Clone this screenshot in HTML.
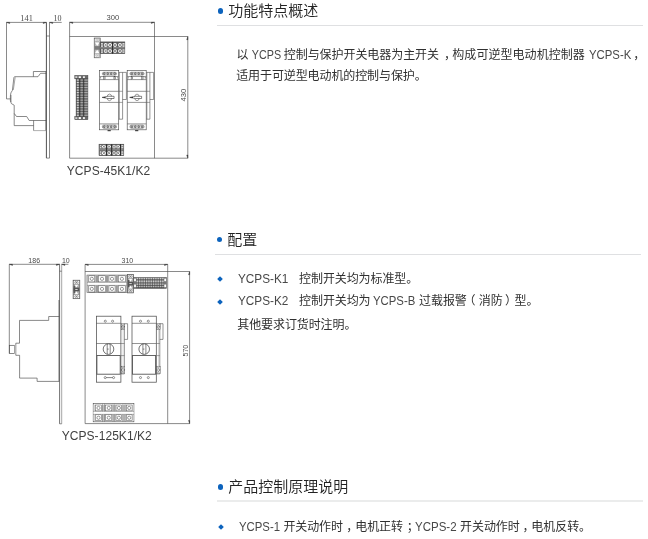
<!DOCTYPE html>
<html lang="zh-CN">
<head>
<meta charset="utf-8">
<title>YCPS-K</title>
<style>
html,body{margin:0;padding:0;background:#fff;}
body{width:648px;height:539px;position:relative;overflow:hidden;font-family:"Liberation Sans","Noto Sans CJK SC",sans-serif;color:#222;}
.abs{position:absolute;white-space:nowrap;}
.h{position:absolute;left:229px;font-size:15px;line-height:20px;height:20px;color:#222;font-weight:350;white-space:nowrap;}
.dot{position:absolute;left:217.7px;width:5.5px;height:5.5px;border-radius:50%;background:#0c63bd;}
.rule{position:absolute;left:216.8px;width:426.2px;height:1px;background:#dfe0e2;}
.p{position:absolute;left:237px;font-size:12px;line-height:20px;height:20px;color:#303030;font-weight:400;white-space:nowrap;}
.dia{position:absolute;left:218px;width:4px;height:4px;background:#0c63bd;transform:rotate(45deg);}
.cap{position:absolute;letter-spacing:0.06px;font-size:12px;line-height:16px;color:#404040;white-space:nowrap;font-weight:300;}
svg{position:absolute;left:0;top:0;}
.l{display:inline-block;white-space:pre;color:#484848;font-size:12px;letter-spacing:0;}
.l>span{display:inline-block;white-space:pre;transform-origin:0 50%;}
.pu{display:inline-block;box-sizing:border-box;white-space:pre;letter-spacing:0;}
.gap{display:inline-block;white-space:pre;overflow:hidden;vertical-align:bottom;height:14px;}
#wrap{position:absolute;left:0;top:0;width:648px;height:539px;will-change:transform;}
</style>
</head>
<body>
<div id="wrap">
<!-- Section 1 -->
<div class="dot" style="top:8px"></div>
<div class="h" style="top:0.5px;left:228.3px">功能特点概述</div>
<div class="rule" style="top:25px"></div>
<div class="p" style="top:45px;left:236.6px"><span style="letter-spacing:-0.070px">以</span><span class="l" style="width:35.30px"><span style="transform:scaleX(0.8972);margin-left:0px"> YCPS </span></span><span style="letter-spacing:-0.070px">控制与保护开关电器为主开关</span><span class="pu" style="width:13.40px;padding-left:5.10px">，</span><span style="letter-spacing:0.045px">构成可逆型电动机控制器</span><span class="l" style="width:46.30px"><span style="transform:scaleX(0.9466);margin-left:0.85px"> YCPS-K</span></span><span class="pu" style="width:12.00px;padding-left:2.20px">，</span></div>
<div class="p" style="top:66px;left:236.2px"><span style="letter-spacing:-0.100px">适用于可逆型电动机的控制与保护。</span></div>

<!-- Section 2 -->
<div class="dot" style="top:236.9px;left:216.5px"></div>
<div class="h" style="top:229.5px;left:227.2px">配置</div>
<div class="rule" style="top:254px;left:215.3px"></div>
<div class="dia" style="top:277.3px;left:217.8px"></div>
<div class="p" style="top:269px;left:237.9px"><span class="l" style="width:50.40px"><span style="transform:scaleX(0.9815);margin-left:0px">YCPS-K1</span></span><span class="gap" style="width:10.80px">　</span><span style="letter-spacing:-0.100px">控制开关均为标准型。</span></div>
<div class="dia" style="top:299.6px;left:217.8px"></div>
<div class="p" style="top:291px;left:237.9px"><span class="l" style="width:50.40px"><span style="transform:scaleX(0.9815);margin-left:0px">YCPS-K2</span></span><span class="gap" style="width:10.80px">　</span><span style="letter-spacing:-0.100px">控制开关均为</span><span class="l" style="width:48.60px"><span style="transform:scaleX(0.9465);margin-left:0px"> YCPS-B </span></span><span style="letter-spacing:-0.070px">过载报警</span><span class="pu" style="width:11.90px;position:relative;left:-3.4px">（</span><span style="letter-spacing:-0.070px">消防</span><span class="pu" style="width:11.90px;padding-left:2.50px">）</span><span style="letter-spacing:-0.070px">型。</span></div>
<div class="p" style="top:315px;left:237.3px"><span style="letter-spacing:-0.100px">其他要求订货时注明。</span></div>

<!-- Section 3 -->
<div class="dot" style="top:484px"></div>
<div class="h" style="top:476.5px;left:228.3px">产品控制原理说明</div>
<div class="rule" style="top:500px;height:2px;background:#ebecec"></div>
<div class="dia" style="top:524.7px;left:219px"></div>
<div class="p" style="top:517px;left:239.2px"><span class="l" style="width:44.20px"><span style="transform:scaleX(0.9468);margin-left:0px">YCPS-1 </span></span><span style="letter-spacing:-0.100px">开关动作时</span><span class="pu" style="width:12.30px;padding-left:3.30px">，</span><span style="letter-spacing:-0.050px">电机正转</span><span class="pu" style="width:12.20px;padding-left:3.80px">；</span><span class="l" style="width:44.80px"><span style="transform:scaleX(0.9597);margin-left:0px">YCPS-2 </span></span><span style="letter-spacing:-0.050px">开关动作时</span><span class="pu" style="width:11.55px;padding-left:2.65px">，</span><span style="letter-spacing:-0.050px">电机反转。</span></div>

<div class="cap" style="left:66.8px;top:163px">YCPS-45K1/K2</div>
<div class="cap" style="left:61.7px;top:428px">YCPS-125K1/K2</div>

<svg width="648" height="539" viewBox="0 0 648 539" id="dwg">
<g id="d1">
<path d="M6.5,22.4 H46.4 M49.5,22.4 H61.7" fill="none" stroke="#4d4d4d" stroke-width="0.66" />
<path d="M6.5,22.4 V98.9 H10.6" fill="none" stroke="#4d4d4d" stroke-width="0.66" />
<path d="M46.4,22.4 V158.1" fill="none" stroke="#3d3d3d" stroke-width="0.9" />
<path d="M49.5,22.4 V158.1" fill="none" stroke="#4d4d4d" stroke-width="0.66" />
<path d="M46.4,36 H49.5 M46.4,158.1 H49.5" fill="none" stroke="#4d4d4d" stroke-width="0.66" />
<path d="M45.6,71.5 V130.6" fill="none" stroke="#4d4d4d" stroke-width="0.5" />
<path d="M46.4,71.5 H33.4 V76.7" fill="none" stroke="#4d4d4d" stroke-width="0.66" />
<path d="M46.4,73.3 H40.5 L38,76.7 H14.5 L13.9,77.6 L12.4,90.4 Q10.4,92.6 10.4,96 V101 Q10.6,104.2 14.2,105.2 V113.4 L16.5,116.5 H26.7 L29.2,120.5 H46.4" fill="none" stroke="#4d4d4d" stroke-width="0.66" />
<path d="M15.2,77.2 L13.3,90" fill="none" stroke="#4d4d4d" stroke-width="0.5" />
<path d="M11,95 V102" fill="none" stroke="#4d4d4d" stroke-width="0.6" />
<path d="M14.2,113.4 V125.6 H33.6" fill="none" stroke="#4d4d4d" stroke-width="0.66" />
<path d="M33.6,120.5 V130.6" fill="none" stroke="#4d4d4d" stroke-width="0.66" />
<path d="M33.6,130.6 H46.4" fill="none" stroke="#888" stroke-width="0.66" />
<path d="M6.5,22.4 L9.7,22.4 L9.7,23.5 Z" fill="#333" stroke="#333" stroke-width="0.4"/>
<path d="M46.4,22.4 L43.199999999999996,22.4 L43.199999999999996,23.5 Z" fill="#333" stroke="#333" stroke-width="0.4"/>
<path d="M49.5,22.4 L52.7,22.4 L52.7,23.5 Z" fill="#333" stroke="#333" stroke-width="0.4"/>
<text x="26.6" y="20.6" font-family="'Liberation Serif',sans-serif" font-size="8.3" text-anchor="middle" fill="#4a4a4a" >141</text>
<text x="57.4" y="20.6" font-family="'Liberation Serif',sans-serif" font-size="8" text-anchor="middle" fill="#4a4a4a" >10</text>
<path d="M69.6,22.3 H154.5" fill="none" stroke="#4d4d4d" stroke-width="0.66" />
<path d="M69.6,22.3 V158.2 M154.5,22.3 V158.2" fill="none" stroke="#4d4d4d" stroke-width="0.66" />
<path d="M69.6,36.5 H187.8 M69.6,158.2 H187.8" fill="none" stroke="#4d4d4d" stroke-width="0.66" />
<path d="M187.8,36.5 V158.2" fill="none" stroke="#4d4d4d" stroke-width="0.66" />
<path d="M69.6,22.3 L72.8,22.3 L72.8,23.400000000000002 Z" fill="#333" stroke="#333" stroke-width="0.4"/>
<path d="M154.5,22.3 L151.3,22.3 L151.3,23.400000000000002 Z" fill="#333" stroke="#333" stroke-width="0.4"/>
<path d="M187.8,36.5 L187.8,39.7 L186.70000000000002,39.7 Z" fill="#333" stroke="#333" stroke-width="0.4"/>
<path d="M187.8,158.2 L187.8,155.0 L186.70000000000002,155.0 Z" fill="#333" stroke="#333" stroke-width="0.4"/>
<text x="112.8" y="20.0" font-family="'Liberation Sans',sans-serif" font-size="7.6" text-anchor="middle" fill="#4a4a4a" >300</text>
<text transform="translate(185.7,95.2) rotate(-90)" font-family="'Liberation Sans',sans-serif" font-size="7.6" text-anchor="middle" fill="#4a4a4a">430</text>
<rect x="94.20" y="38.00" width="6.00" height="19.80" fill="#b8b8b8" stroke="#555" stroke-width="0.6"/>
<rect x="94.60" y="46.12" width="5.20" height="3.56" fill="#7a7a7a"/>
<rect x="94.60" y="38.40" width="5.20" height="3.37" fill="#fff" stroke="#555" stroke-width="0.35"/>
<rect x="94.60" y="54.03" width="5.20" height="3.37" fill="#fff" stroke="#555" stroke-width="0.35"/>
<ellipse cx="96.30" cy="40.08" rx="0.75" ry="0.8" fill="none" stroke="#666" stroke-width="0.3"/>
<ellipse cx="98.10" cy="40.08" rx="0.75" ry="0.8" fill="none" stroke="#666" stroke-width="0.3"/>
<ellipse cx="96.30" cy="55.72" rx="0.75" ry="0.8" fill="none" stroke="#666" stroke-width="0.3"/>
<ellipse cx="98.10" cy="55.72" rx="0.75" ry="0.8" fill="none" stroke="#666" stroke-width="0.3"/>
<path d="M94.90,42.47 H99.50 L97.20,46.12 Z" fill="#fff"/>
<path d="M94.90,53.33 H99.50 L97.20,49.68 Z" fill="#fff"/>
<rect x="100.00" y="41.90" width="24.85" height="11.80" fill="#5c5c5c" stroke="#484848" stroke-width="0.5"/>
<rect x="100.30" y="46.90" width="24.25" height="1.70" fill="#858585"/>
<rect x="101.00" y="43.10" width="1.90" height="3.70" fill="#e6e6e6"/>
<path d="M101.00,44.95 H102.90" stroke="#555" stroke-width="0.7"/>
<rect x="103.90" y="43.10" width="3.50" height="3.70" fill="#fff" stroke="none"/>
<path d="M103.90,43.10 L107.40,46.80 M107.40,43.10 L103.90,46.80" stroke="#111" stroke-width="0.45" fill="none"/>
<rect x="108.20" y="43.10" width="3.70" height="3.70" fill="#fff" stroke="none"/>
<path d="M108.20,43.10 L111.90,46.80 M111.90,43.10 L108.20,46.80" stroke="#111" stroke-width="0.45" fill="none"/>
<rect x="113.30" y="43.10" width="3.40" height="3.70" fill="#fff" stroke="none"/>
<path d="M113.30,43.10 L116.70,46.80 M116.70,43.10 L113.30,46.80" stroke="#111" stroke-width="0.45" fill="none"/>
<rect x="118.20" y="43.10" width="3.50" height="3.70" fill="#fff" stroke="none"/>
<path d="M118.20,43.10 L121.70,46.80 M121.70,43.10 L118.20,46.80" stroke="#111" stroke-width="0.45" fill="none"/>
<rect x="122.40" y="43.10" width="2.10" height="3.70" fill="#e6e6e6"/>
<path d="M122.40,44.95 H124.50" stroke="#555" stroke-width="0.7"/>
<rect x="101.00" y="49.30" width="1.90" height="3.50" fill="#e6e6e6"/>
<path d="M101.00,51.05 H102.90" stroke="#555" stroke-width="0.7"/>
<rect x="103.90" y="49.30" width="3.50" height="3.50" fill="#fff" stroke="none"/>
<path d="M103.90,49.30 L107.40,52.80 M107.40,49.30 L103.90,52.80" stroke="#111" stroke-width="0.45" fill="none"/>
<rect x="108.20" y="49.30" width="3.70" height="3.50" fill="#fff" stroke="none"/>
<path d="M108.20,49.30 L111.90,52.80 M111.90,49.30 L108.20,52.80" stroke="#111" stroke-width="0.45" fill="none"/>
<rect x="113.30" y="49.30" width="3.40" height="3.50" fill="#fff" stroke="none"/>
<path d="M113.30,49.30 L116.70,52.80 M116.70,49.30 L113.30,52.80" stroke="#111" stroke-width="0.45" fill="none"/>
<rect x="118.20" y="49.30" width="3.50" height="3.50" fill="#fff" stroke="none"/>
<path d="M118.20,49.30 L121.70,52.80 M121.70,49.30 L118.20,52.80" stroke="#111" stroke-width="0.45" fill="none"/>
<rect x="122.40" y="49.30" width="2.10" height="3.50" fill="#e6e6e6"/>
<path d="M122.40,51.05 H124.50" stroke="#555" stroke-width="0.7"/>
<path d="M112.6,41.9 V53.7" fill="none" stroke="#2a2a2a" stroke-width="1.0" />
<rect x="99.00" y="144.20" width="24.80" height="11.50" fill="#5c5c5c" stroke="#484848" stroke-width="0.5"/>
<rect x="99.30" y="148.30" width="24.20" height="2.30" fill="#858585"/>
<rect x="99.80" y="145.10" width="1.60" height="3.10" fill="#e6e6e6"/>
<path d="M99.80,146.65 H101.40" stroke="#555" stroke-width="0.7"/>
<rect x="102.00" y="145.10" width="3.80" height="3.10" fill="#fff" stroke="none"/>
<path d="M102.00,145.10 L105.80,148.20 M105.80,145.10 L102.00,148.20" stroke="#111" stroke-width="0.45" fill="none"/>
<rect x="107.30" y="145.10" width="3.60" height="3.10" fill="#fff" stroke="none"/>
<path d="M107.30,145.10 L110.90,148.20 M110.90,145.10 L107.30,148.20" stroke="#111" stroke-width="0.45" fill="none"/>
<rect x="112.40" y="145.10" width="3.20" height="3.10" fill="#fff" stroke="none"/>
<path d="M112.40,145.10 L115.60,148.20 M115.60,145.10 L112.40,148.20" stroke="#111" stroke-width="0.45" fill="none"/>
<rect x="116.40" y="145.10" width="3.50" height="3.10" fill="#fff" stroke="none"/>
<path d="M116.40,145.10 L119.90,148.20 M119.90,145.10 L116.40,148.20" stroke="#111" stroke-width="0.45" fill="none"/>
<rect x="121.30" y="145.10" width="2.00" height="3.10" fill="#e6e6e6"/>
<path d="M121.30,146.65 H123.30" stroke="#555" stroke-width="0.7"/>
<rect x="99.80" y="151.30" width="1.60" height="3.70" fill="#e6e6e6"/>
<path d="M99.80,153.15 H101.40" stroke="#555" stroke-width="0.7"/>
<rect x="102.00" y="151.30" width="3.80" height="3.70" fill="#fff" stroke="none"/>
<path d="M102.00,151.30 L105.80,155.00 M105.80,151.30 L102.00,155.00" stroke="#111" stroke-width="0.45" fill="none"/>
<rect x="107.30" y="151.30" width="3.60" height="3.70" fill="#fff" stroke="none"/>
<path d="M107.30,151.30 L110.90,155.00 M110.90,151.30 L107.30,155.00" stroke="#111" stroke-width="0.45" fill="none"/>
<rect x="112.40" y="151.30" width="3.20" height="3.70" fill="#fff" stroke="none"/>
<path d="M112.40,151.30 L115.60,155.00 M115.60,151.30 L112.40,155.00" stroke="#111" stroke-width="0.45" fill="none"/>
<rect x="116.40" y="151.30" width="3.50" height="3.70" fill="#fff" stroke="none"/>
<path d="M116.40,151.30 L119.90,155.00 M119.90,151.30 L116.40,155.00" stroke="#111" stroke-width="0.45" fill="none"/>
<rect x="121.30" y="151.30" width="2.00" height="3.70" fill="#e6e6e6"/>
<path d="M121.30,153.15 H123.30" stroke="#555" stroke-width="0.7"/>
<path d="M106.6,144.2 V155.7" fill="none" stroke="#2a2a2a" stroke-width="1.0" />
<path d="M111.7,144.2 V155.7" fill="none" stroke="#2a2a2a" stroke-width="1.0" />
<path d="M120.5,144.2 V155.7" fill="none" stroke="#2a2a2a" stroke-width="1.0" />
<rect x="74.80" y="75.40" width="13.10" height="3.40" fill="#6a6a6a" stroke="#444" stroke-width="0.5"/>
<rect x="74.80" y="116.50" width="13.10" height="3.20" fill="#6a6a6a" stroke="#444" stroke-width="0.5"/>
<rect x="78.70" y="76.30" width="2.20" height="1.9" fill="#fff"/>
<rect x="78.70" y="117.10" width="2.20" height="1.9" fill="#fff"/>
<rect x="83.10" y="76.30" width="1.70" height="1.9" fill="#fff"/>
<rect x="83.10" y="117.10" width="1.70" height="1.9" fill="#fff"/>
<rect x="75.30" y="76.30" width="2.0" height="1.6" fill="#ddd"/>
<rect x="75.30" y="117.30" width="2.0" height="1.6" fill="#ddd"/>
<rect x="76.10" y="78.80" width="11.80" height="37.70" fill="#707070" stroke="#444" stroke-width="0.5"/>
<rect x="76.50" y="79.55" width="11.00" height="1.01" fill="#e2e2e2"/>
<rect x="76.50" y="82.06" width="11.00" height="1.01" fill="#e2e2e2"/>
<rect x="76.50" y="84.58" width="11.00" height="1.01" fill="#e2e2e2"/>
<rect x="76.50" y="87.09" width="11.00" height="1.01" fill="#e2e2e2"/>
<rect x="76.50" y="89.60" width="11.00" height="1.01" fill="#e2e2e2"/>
<rect x="76.50" y="92.12" width="11.00" height="1.01" fill="#e2e2e2"/>
<rect x="76.50" y="94.63" width="11.00" height="1.01" fill="#e2e2e2"/>
<rect x="76.50" y="97.14" width="11.00" height="1.01" fill="#e2e2e2"/>
<rect x="76.50" y="99.66" width="11.00" height="1.01" fill="#e2e2e2"/>
<rect x="76.50" y="102.17" width="11.00" height="1.01" fill="#e2e2e2"/>
<rect x="76.50" y="104.68" width="11.00" height="1.01" fill="#e2e2e2"/>
<rect x="76.50" y="107.20" width="11.00" height="1.01" fill="#e2e2e2"/>
<rect x="76.50" y="109.71" width="11.00" height="1.01" fill="#e2e2e2"/>
<rect x="76.50" y="112.22" width="11.00" height="1.01" fill="#e2e2e2"/>
<rect x="76.50" y="114.74" width="11.00" height="1.01" fill="#e2e2e2"/>
<rect x="78.85" y="78.80" width="1.7" height="37.70" fill="#2e2e2e" fill-opacity="0.8"/>
<rect x="82.75" y="78.80" width="1.7" height="37.70" fill="#2e2e2e" fill-opacity="0.8"/>
<rect x="80.70" y="78.80" width="1.90" height="37.70" fill="#555" fill-opacity="0.35"/>
<rect x="84.60" y="78.80" width="2.80" height="37.70" fill="#555" fill-opacity="0.35"/>
<rect x="76.10" y="78.80" width="0.9" height="37.70" fill="#444" fill-opacity="0.6"/>
<path d="M118.7,72.4 H126.4 V99.5 H122.6" fill="none" stroke="#4d4d4d" stroke-width="0.6" />
<path d="M122.6,72.4 V119.2 H118.7" fill="none" stroke="#4d4d4d" stroke-width="0.6" />
<path d="M118.7,91.3 H122.6 M118.7,102.4 H122.6" fill="none" stroke="#4d4d4d" stroke-width="0.5" />
<rect x="99.60" y="70.50" width="19.10" height="59.30" fill="#fff" stroke="#4d4d4d" stroke-width="0.65"/>
<path d="M119.4,72.4 V119.2" fill="none" stroke="#4d4d4d" stroke-width="0.5" />
<rect x="102.40" y="72.3" width="14.10" height="2.70" rx="1.3" fill="#fff" stroke="#333" stroke-width="0.5"/>
<circle cx="104.30" cy="73.65" r="0.95" fill="#bbb" stroke="#222" stroke-width="0.5"/>
<circle cx="107.73" cy="73.65" r="0.95" fill="#bbb" stroke="#222" stroke-width="0.5"/>
<circle cx="111.17" cy="73.65" r="0.95" fill="#bbb" stroke="#222" stroke-width="0.5"/>
<circle cx="114.60" cy="73.65" r="0.95" fill="#bbb" stroke="#222" stroke-width="0.5"/>
<rect x="102.40" y="125.2" width="14.10" height="3.00" rx="1.3" fill="#fff" stroke="#333" stroke-width="0.5"/>
<circle cx="104.30" cy="126.70" r="0.95" fill="#bbb" stroke="#222" stroke-width="0.5"/>
<circle cx="107.73" cy="126.70" r="0.95" fill="#bbb" stroke="#222" stroke-width="0.5"/>
<circle cx="111.17" cy="126.70" r="0.95" fill="#bbb" stroke="#222" stroke-width="0.5"/>
<circle cx="114.60" cy="126.70" r="0.95" fill="#bbb" stroke="#222" stroke-width="0.5"/>
<path d="M99.6,76.5 H118.7 M99.6,79.6 H118.7" fill="none" stroke="#4d4d4d" stroke-width="0.6" />
<rect x="103.50" y="76.5" width="1.6" height="3.1" fill="#bbb" stroke="#444" stroke-width="0.4"/>
<rect x="113.90" y="76.5" width="1.6" height="3.1" fill="#bbb" stroke="#444" stroke-width="0.4"/>
<rect x="99.60" y="76.5" width="1.5" height="2" fill="#999"/>
<rect x="117.20" y="76.5" width="1.5" height="2" fill="#999"/>
<path d="M99.6,91.3 H118.7 M99.6,102.4 H118.7 M99.6,123.9 H118.7" fill="none" stroke="#4d4d4d" stroke-width="0.6" />
<ellipse cx="109.45" cy="97.4" rx="2.3" ry="3.3" fill="#fff" stroke="#333" stroke-width="0.5"/>
<path d="M102.15,97.4 L107.95,96.30000000000001 H114.05 V98.5 H107.95 Z" fill="#fff" stroke="#222" stroke-width="0.55"/>
<path d="M102.15,97.4 L105.45,96.80000000000001 V98.0 Z" fill="#222"/>
<rect x="107.55" y="130.1" width="3.2" height="1.1" fill="#333"/>
<path d="M146.2,72.4 H153.6 V99.5 H149.9" fill="none" stroke="#4d4d4d" stroke-width="0.6" />
<path d="M149.9,72.4 V119.2 H146.2" fill="none" stroke="#4d4d4d" stroke-width="0.6" />
<path d="M146.2,91.3 H149.9 M146.2,102.4 H149.9" fill="none" stroke="#4d4d4d" stroke-width="0.5" />
<rect x="127.20" y="70.50" width="19.00" height="59.30" fill="#fff" stroke="#4d4d4d" stroke-width="0.65"/>
<path d="M146.89999999999998,72.4 V119.2" fill="none" stroke="#4d4d4d" stroke-width="0.5" />
<rect x="130.00" y="72.3" width="14.00" height="2.70" rx="1.3" fill="#fff" stroke="#333" stroke-width="0.5"/>
<circle cx="131.90" cy="73.65" r="0.95" fill="#bbb" stroke="#222" stroke-width="0.5"/>
<circle cx="135.30" cy="73.65" r="0.95" fill="#bbb" stroke="#222" stroke-width="0.5"/>
<circle cx="138.70" cy="73.65" r="0.95" fill="#bbb" stroke="#222" stroke-width="0.5"/>
<circle cx="142.10" cy="73.65" r="0.95" fill="#bbb" stroke="#222" stroke-width="0.5"/>
<rect x="130.00" y="125.2" width="14.00" height="3.00" rx="1.3" fill="#fff" stroke="#333" stroke-width="0.5"/>
<circle cx="131.90" cy="126.70" r="0.95" fill="#bbb" stroke="#222" stroke-width="0.5"/>
<circle cx="135.30" cy="126.70" r="0.95" fill="#bbb" stroke="#222" stroke-width="0.5"/>
<circle cx="138.70" cy="126.70" r="0.95" fill="#bbb" stroke="#222" stroke-width="0.5"/>
<circle cx="142.10" cy="126.70" r="0.95" fill="#bbb" stroke="#222" stroke-width="0.5"/>
<path d="M127.2,76.5 H146.2 M127.2,79.6 H146.2" fill="none" stroke="#4d4d4d" stroke-width="0.6" />
<rect x="131.10" y="76.5" width="1.6" height="3.1" fill="#bbb" stroke="#444" stroke-width="0.4"/>
<rect x="141.50" y="76.5" width="1.6" height="3.1" fill="#bbb" stroke="#444" stroke-width="0.4"/>
<rect x="127.20" y="76.5" width="1.5" height="2" fill="#999"/>
<rect x="144.70" y="76.5" width="1.5" height="2" fill="#999"/>
<path d="M127.2,91.3 H146.2 M127.2,102.4 H146.2 M127.2,123.9 H146.2" fill="none" stroke="#4d4d4d" stroke-width="0.6" />
<ellipse cx="137.00" cy="97.4" rx="2.3" ry="3.3" fill="#fff" stroke="#333" stroke-width="0.5"/>
<path d="M129.70,97.4 L135.50,96.30000000000001 H141.60 V98.5 H135.50 Z" fill="#fff" stroke="#222" stroke-width="0.55"/>
<path d="M129.70,97.4 L133.00,96.80000000000001 V98.0 Z" fill="#222"/>
<rect x="135.10" y="130.1" width="3.2" height="1.1" fill="#333"/>
</g>
<g id="d2">
<path d="M9.3,264.3 H59.6 M61.6,264.3 H68.4" fill="none" stroke="#4d4d4d" stroke-width="0.66" />
<path d="M9.3,264.3 V353.4" fill="none" stroke="#4d4d4d" stroke-width="0.66" />
<path d="M59.6,264.3 V423.8" fill="none" stroke="#4d4d4d" stroke-width="0.8" />
<path d="M59.0,300 V381.4" fill="none" stroke="#444" stroke-width="0.7" />
<path d="M61.7,264.3 V423.8" fill="none" stroke="#6a6a6a" stroke-width="0.6" />
<path d="M59.6,423.8 H61.7 M59.6,271.2 H61.7" fill="none" stroke="#4d4d4d" stroke-width="0.66" />
<path d="M59.3,316.5 H48.7 V320.4 H19.5 V343.2 H15.8 V355.3 H19.6 V378.1 H37.1 V381.4 H59.3" fill="none" stroke="#4d4d4d" stroke-width="0.66" />
<rect x="9.30" y="345.30" width="5.20" height="8.10" fill="none" stroke="#4d4d4d" stroke-width="0.66"/>
<rect x="14.5" y="345.3" width="1.3" height="8.1" fill="#bbb"/>
<path d="M9.3,264.3 L12.5,264.3 L12.5,265.40000000000003 Z" fill="#333" stroke="#333" stroke-width="0.4"/>
<path d="M59.6,264.3 L56.4,264.3 L56.4,265.40000000000003 Z" fill="#333" stroke="#333" stroke-width="0.4"/>
<path d="M61.7,264.3 L64.9,264.3 L64.9,265.40000000000003 Z" fill="#333" stroke="#333" stroke-width="0.4"/>
<text x="34.2" y="262.5" font-family="'Liberation Sans',sans-serif" font-size="7" text-anchor="middle" fill="#4a4a4a" >186</text>
<text x="65.8" y="262.5" font-family="'Liberation Sans',sans-serif" font-size="7" text-anchor="middle" fill="#4a4a4a" >10</text>
<path d="M85.1,264.4 H167.7" fill="none" stroke="#4d4d4d" stroke-width="0.66" />
<path d="M85.1,264.4 V423.6 M167.7,264.4 V423.6" fill="none" stroke="#4d4d4d" stroke-width="0.66" />
<path d="M85.1,271.5 H189.6 M85.1,423.6 H189.6" fill="none" stroke="#4d4d4d" stroke-width="0.66" />
<path d="M189.6,271.5 V423.6" fill="none" stroke="#4d4d4d" stroke-width="0.66" />
<path d="M85.1,264.4 L88.3,264.4 L88.3,265.5 Z" fill="#333" stroke="#333" stroke-width="0.4"/>
<path d="M167.7,264.4 L164.5,264.4 L164.5,265.5 Z" fill="#333" stroke="#333" stroke-width="0.4"/>
<path d="M189.6,271.5 L189.6,274.7 L188.5,274.7 Z" fill="#333" stroke="#333" stroke-width="0.4"/>
<path d="M189.6,423.6 L189.6,420.40000000000003 L188.5,420.40000000000003 Z" fill="#333" stroke="#333" stroke-width="0.4"/>
<text x="127.4" y="262.6" font-family="'Liberation Sans',sans-serif" font-size="7" text-anchor="middle" fill="#4a4a4a" >310</text>
<text transform="translate(188.0,350.6) rotate(-90)" font-family="'Liberation Sans',sans-serif" font-size="7" text-anchor="middle" fill="#4a4a4a">570</text>
<rect x="73.10" y="280.20" width="6.70" height="18.50" fill="#b0b0b0" stroke="#555" stroke-width="0.65"/>
<rect x="73.60" y="287.60" width="5.70" height="3.70" fill="#555"/>
<rect x="73.60" y="285.75" width="1.3" height="7.40" fill="#555"/>
<rect x="75.25" y="289.05" width="2.4" height="0.8" fill="#f4f4f4"/>
<rect x="73.60" y="280.70" width="5.70" height="3.33" fill="#fff" stroke="#555" stroke-width="0.35"/>
<rect x="73.60" y="294.87" width="5.70" height="3.33" fill="#fff" stroke="#555" stroke-width="0.35"/>
<ellipse cx="75.55" cy="282.37" rx="0.8" ry="0.9" fill="none" stroke="#333" stroke-width="0.4"/>
<ellipse cx="77.35" cy="282.37" rx="0.8" ry="0.9" fill="none" stroke="#333" stroke-width="0.4"/>
<ellipse cx="75.55" cy="296.53" rx="0.8" ry="0.9" fill="none" stroke="#333" stroke-width="0.4"/>
<ellipse cx="77.35" cy="296.53" rx="0.8" ry="0.9" fill="none" stroke="#333" stroke-width="0.4"/>
<path d="M74.75,284.63 H78.15 L76.45,287.60 Z" fill="#fff"/>
<path d="M74.75,294.27 H78.15 L76.45,291.30 Z" fill="#fff"/>
<rect x="127.50" y="274.40" width="6.10" height="18.50" fill="#b0b0b0" stroke="#555" stroke-width="0.65"/>
<rect x="128.00" y="281.80" width="5.10" height="3.70" fill="#555"/>
<rect x="128.00" y="279.95" width="1.3" height="7.40" fill="#555"/>
<rect x="129.35" y="283.25" width="2.4" height="0.8" fill="#f4f4f4"/>
<rect x="128.00" y="274.90" width="5.10" height="3.33" fill="#fff" stroke="#555" stroke-width="0.35"/>
<rect x="128.00" y="289.07" width="5.10" height="3.33" fill="#fff" stroke="#555" stroke-width="0.35"/>
<ellipse cx="129.65" cy="276.56" rx="0.8" ry="0.9" fill="none" stroke="#333" stroke-width="0.4"/>
<ellipse cx="131.45" cy="276.56" rx="0.8" ry="0.9" fill="none" stroke="#333" stroke-width="0.4"/>
<ellipse cx="129.65" cy="290.73" rx="0.8" ry="0.9" fill="none" stroke="#333" stroke-width="0.4"/>
<ellipse cx="131.45" cy="290.73" rx="0.8" ry="0.9" fill="none" stroke="#333" stroke-width="0.4"/>
<path d="M128.85,278.83 H132.25 L130.55,281.80 Z" fill="#fff"/>
<path d="M128.85,288.47 H132.25 L130.55,285.50 Z" fill="#fff"/>
<rect x="87.00" y="275.10" width="39.90" height="17.40" fill="#fff" stroke="#484848" stroke-width="0.6"/>
<rect x="95.40" y="275.50" width="2.70" height="6.70" fill="#9a9a9a"/>
<rect x="105.90" y="275.50" width="2.40" height="6.70" fill="#9a9a9a"/>
<rect x="115.70" y="275.50" width="2.20" height="6.70" fill="#9a9a9a"/>
<rect x="87.25" y="275.50" width="1.00" height="6.70" fill="#b4b4b4"/>
<rect x="125.85" y="275.50" width="0.80" height="6.70" fill="#b4b4b4"/>
<rect x="95.40" y="285.50" width="2.70" height="6.80" fill="#9a9a9a"/>
<rect x="105.90" y="285.50" width="2.40" height="6.80" fill="#9a9a9a"/>
<rect x="115.70" y="285.50" width="2.20" height="6.80" fill="#9a9a9a"/>
<rect x="87.25" y="285.50" width="1.00" height="6.80" fill="#b4b4b4"/>
<rect x="125.85" y="285.50" width="0.80" height="6.80" fill="#b4b4b4"/>
<path d="M87.0,282.35 H126.9 M87.0,285.35 H126.9" fill="none" stroke="#666" stroke-width="0.45" />
<rect x="88.80" y="275.80" width="6.00" height="6.10" fill="#fff" stroke="#4a4a4a" stroke-width="0.5"/>
<circle cx="91.80" cy="278.85" r="1.60" fill="none" stroke="#3a3a3a" stroke-width="0.5"/>
<rect x="98.70" y="275.80" width="6.60" height="6.10" fill="#fff" stroke="#4a4a4a" stroke-width="0.5"/>
<circle cx="102.00" cy="278.85" r="1.60" fill="none" stroke="#3a3a3a" stroke-width="0.5"/>
<rect x="108.90" y="275.80" width="6.20" height="6.10" fill="#fff" stroke="#4a4a4a" stroke-width="0.5"/>
<circle cx="112.00" cy="278.85" r="1.60" fill="none" stroke="#3a3a3a" stroke-width="0.5"/>
<rect x="118.50" y="275.80" width="6.80" height="6.10" fill="#fff" stroke="#4a4a4a" stroke-width="0.5"/>
<circle cx="121.90" cy="278.85" r="1.60" fill="none" stroke="#3a3a3a" stroke-width="0.5"/>
<rect x="88.80" y="285.80" width="6.00" height="6.20" fill="#fff" stroke="#4a4a4a" stroke-width="0.5"/>
<circle cx="91.80" cy="288.90" r="1.60" fill="none" stroke="#3a3a3a" stroke-width="0.5"/>
<rect x="98.70" y="285.80" width="6.60" height="6.20" fill="#fff" stroke="#4a4a4a" stroke-width="0.5"/>
<circle cx="102.00" cy="288.90" r="1.60" fill="none" stroke="#3a3a3a" stroke-width="0.5"/>
<rect x="108.90" y="285.80" width="6.20" height="6.20" fill="#fff" stroke="#4a4a4a" stroke-width="0.5"/>
<circle cx="112.00" cy="288.90" r="1.60" fill="none" stroke="#3a3a3a" stroke-width="0.5"/>
<rect x="118.50" y="285.80" width="6.80" height="6.20" fill="#fff" stroke="#4a4a4a" stroke-width="0.5"/>
<circle cx="121.90" cy="288.90" r="1.60" fill="none" stroke="#3a3a3a" stroke-width="0.5"/>
<rect x="93.20" y="403.60" width="40.70" height="18.20" fill="#fff" stroke="#484848" stroke-width="0.6"/>
<rect x="102.00" y="404.70" width="3.10" height="6.50" fill="#c4c4c4"/>
<rect x="112.40" y="404.70" width="3.00" height="6.50" fill="#c4c4c4"/>
<rect x="122.30" y="404.70" width="3.40" height="6.50" fill="#c4c4c4"/>
<rect x="93.45" y="404.70" width="1.60" height="6.50" fill="#d4d4d4"/>
<rect x="132.65" y="404.70" width="1.00" height="6.50" fill="#d4d4d4"/>
<rect x="102.00" y="414.50" width="3.10" height="6.50" fill="#c4c4c4"/>
<rect x="112.40" y="414.50" width="3.00" height="6.50" fill="#c4c4c4"/>
<rect x="122.30" y="414.50" width="3.40" height="6.50" fill="#c4c4c4"/>
<rect x="93.45" y="414.50" width="1.60" height="6.50" fill="#d4d4d4"/>
<rect x="132.65" y="414.50" width="1.00" height="6.50" fill="#d4d4d4"/>
<path d="M102.60,403.6 V421.8 M104.50,403.6 V421.8" fill="none" stroke="#555" stroke-width="0.4" />
<path d="M113.00,403.6 V421.8 M114.80,403.6 V421.8" fill="none" stroke="#555" stroke-width="0.4" />
<path d="M122.90,403.6 V421.8 M125.10,403.6 V421.8" fill="none" stroke="#555" stroke-width="0.4" />
<rect x="93.50" y="411.60" width="40.10" height="2.50" fill="#fff"/>
<path d="M93.2,411.35 H133.9 M93.2,414.35 H133.9" fill="none" stroke="#666" stroke-width="0.45" />
<rect x="95.60" y="405.00" width="5.80" height="5.90" fill="#fff" stroke="#4a4a4a" stroke-width="0.5"/>
<circle cx="98.50" cy="407.95" r="1.60" fill="none" stroke="#3a3a3a" stroke-width="0.5"/>
<rect x="105.70" y="405.00" width="6.10" height="5.90" fill="#fff" stroke="#4a4a4a" stroke-width="0.5"/>
<circle cx="108.75" cy="407.95" r="1.60" fill="none" stroke="#3a3a3a" stroke-width="0.5"/>
<rect x="116.00" y="405.00" width="5.70" height="5.90" fill="#fff" stroke="#4a4a4a" stroke-width="0.5"/>
<circle cx="118.85" cy="407.95" r="1.60" fill="none" stroke="#3a3a3a" stroke-width="0.5"/>
<rect x="126.30" y="405.00" width="5.80" height="5.90" fill="#fff" stroke="#4a4a4a" stroke-width="0.5"/>
<circle cx="129.20" cy="407.95" r="1.60" fill="none" stroke="#3a3a3a" stroke-width="0.5"/>
<rect x="95.60" y="414.80" width="5.80" height="5.90" fill="#fff" stroke="#4a4a4a" stroke-width="0.5"/>
<circle cx="98.50" cy="417.75" r="1.60" fill="none" stroke="#3a3a3a" stroke-width="0.5"/>
<rect x="105.70" y="414.80" width="6.10" height="5.90" fill="#fff" stroke="#4a4a4a" stroke-width="0.5"/>
<circle cx="108.75" cy="417.75" r="1.60" fill="none" stroke="#3a3a3a" stroke-width="0.5"/>
<rect x="116.00" y="414.80" width="5.70" height="5.90" fill="#fff" stroke="#4a4a4a" stroke-width="0.5"/>
<circle cx="118.85" cy="417.75" r="1.60" fill="none" stroke="#3a3a3a" stroke-width="0.5"/>
<rect x="126.30" y="414.80" width="5.80" height="5.90" fill="#fff" stroke="#4a4a4a" stroke-width="0.5"/>
<circle cx="129.20" cy="417.75" r="1.60" fill="none" stroke="#3a3a3a" stroke-width="0.5"/>
<rect x="133.60" y="277.30" width="33.00" height="11.20" fill="#777" stroke="#555" stroke-width="0.5"/>
<rect x="136.70" y="277.90" width="1.32" height="10.00" fill="#cdcdcd"/>
<rect x="139.02" y="277.90" width="1.32" height="10.00" fill="#cdcdcd"/>
<rect x="141.33" y="277.90" width="1.32" height="10.00" fill="#cdcdcd"/>
<rect x="143.65" y="277.90" width="1.32" height="10.00" fill="#cdcdcd"/>
<rect x="145.97" y="277.90" width="1.32" height="10.00" fill="#cdcdcd"/>
<rect x="148.28" y="277.90" width="1.32" height="10.00" fill="#cdcdcd"/>
<rect x="150.60" y="277.90" width="1.32" height="10.00" fill="#cdcdcd"/>
<rect x="152.92" y="277.90" width="1.32" height="10.00" fill="#cdcdcd"/>
<rect x="155.23" y="277.90" width="1.32" height="10.00" fill="#cdcdcd"/>
<rect x="157.55" y="277.90" width="1.32" height="10.00" fill="#cdcdcd"/>
<rect x="159.87" y="277.90" width="1.32" height="10.00" fill="#cdcdcd"/>
<rect x="162.18" y="277.90" width="1.32" height="10.00" fill="#cdcdcd"/>
<rect x="136.20" y="279.20" width="27.80" height="1.25" fill="#444" fill-opacity="0.72"/>
<rect x="136.20" y="282.30" width="27.80" height="1.25" fill="#444" fill-opacity="0.72"/>
<rect x="136.20" y="284.80" width="27.80" height="1.25" fill="#444" fill-opacity="0.72"/>
<rect x="136.20" y="286.90" width="27.80" height="1.25" fill="#444" fill-opacity="0.72"/>
<rect x="134.10" y="278.60" width="1.8" height="2.6" fill="#fff"/>
<rect x="134.10" y="284.50" width="1.8" height="2.6" fill="#fff"/>
<rect x="164.30" y="278.60" width="1.8" height="2.6" fill="#fff"/>
<rect x="164.30" y="284.50" width="1.8" height="2.6" fill="#fff"/>
<path d="M124.4,323.7 H127.60000000000001 V339.4 H124.4" fill="none" stroke="#4d4d4d" stroke-width="0.6" />
<path d="M124.4,323.7 V373.9 M120.9,373.9 H124.4" fill="none" stroke="#4d4d4d" stroke-width="0.6" />
<path d="M123.10,330 V366" fill="none" stroke="#999" stroke-width="0.35" />
<path d="M120.9,343.5 H124.4 M120.9,355.6 H124.4" fill="none" stroke="#4d4d4d" stroke-width="0.5" />
<rect x="121.10" y="323.80" width="3.60" height="5.80" fill="#fff" stroke="#444" stroke-width="0.45"/>
<path d="M121.10000000000001,323.8 L124.7,326.70000000000005 M124.7,323.8 L121.10000000000001,326.70000000000005 M121.10000000000001,326.70000000000005 L124.7,329.6 M124.7,326.70000000000005 L121.10000000000001,329.6 M121.10000000000001,326.70000000000005 H124.7" stroke="#333" stroke-width="0.4" fill="none"/>
<rect x="121.10" y="366.20" width="3.60" height="7.50" fill="#fff" stroke="#444" stroke-width="0.45"/>
<path d="M121.10000000000001,366.2 L124.7,369.95 M124.7,366.2 L121.10000000000001,369.95 M121.10000000000001,369.95 L124.7,373.7 M124.7,369.95 L121.10000000000001,373.7 M121.10000000000001,369.95 H124.7" stroke="#333" stroke-width="0.4" fill="none"/>
<rect x="96.40" y="316.20" width="24.50" height="66.00" fill="#fff" stroke="#4d4d4d" stroke-width="0.75"/>
<path d="M96.4,323.3 H120.9 M96.4,343.5 H120.9" fill="none" stroke="#4d4d4d" stroke-width="0.6" />
<rect x="96.90" y="355.50" width="23.30" height="18.70" fill="none" stroke="#555" stroke-width="0.9"/>
<circle cx="105.30" cy="321.20" r="1.05" fill="none" stroke="#333" stroke-width="0.5"/>
<circle cx="112.60" cy="321.20" r="1.05" fill="none" stroke="#333" stroke-width="0.5"/>
<circle cx="105.20" cy="377.60" r="1.05" fill="none" stroke="#333" stroke-width="0.5"/>
<circle cx="113.60" cy="377.60" r="1.05" fill="none" stroke="#333" stroke-width="0.5"/>
<path d="M106.2,377.6 H112.6" fill="none" stroke="#333" stroke-width="0.6" />
<clipPath id="k108"><circle cx="108.5" cy="349.1" r="5.3"/></clipPath>
<circle cx="108.50" cy="349.10" r="5.30" fill="#fff" stroke="#333" stroke-width="0.7"/>
<path d="M107.20,343.1 V355.1 M110.20,343.1 V355.1 M107.20,349.1 H108.70" stroke="#333" stroke-width="0.6" fill="none" clip-path="url(#k108)"/>
<path d="M159.8,323.7 H163.0 V339.4 H159.8" fill="none" stroke="#4d4d4d" stroke-width="0.6" />
<path d="M159.8,323.7 V373.9 M156.3,373.9 H159.8" fill="none" stroke="#4d4d4d" stroke-width="0.6" />
<path d="M158.50,330 V366" fill="none" stroke="#999" stroke-width="0.35" />
<path d="M156.3,343.5 H159.8 M156.3,355.6 H159.8" fill="none" stroke="#4d4d4d" stroke-width="0.5" />
<rect x="156.50" y="323.80" width="3.60" height="5.80" fill="#fff" stroke="#444" stroke-width="0.45"/>
<path d="M156.5,323.8 L160.10000000000002,326.70000000000005 M160.10000000000002,323.8 L156.5,326.70000000000005 M156.5,326.70000000000005 L160.10000000000002,329.6 M160.10000000000002,326.70000000000005 L156.5,329.6 M156.5,326.70000000000005 H160.10000000000002" stroke="#333" stroke-width="0.4" fill="none"/>
<rect x="156.50" y="366.20" width="3.60" height="7.50" fill="#fff" stroke="#444" stroke-width="0.45"/>
<path d="M156.5,366.2 L160.10000000000002,369.95 M160.10000000000002,366.2 L156.5,369.95 M156.5,369.95 L160.10000000000002,373.7 M160.10000000000002,369.95 L156.5,373.7 M156.5,369.95 H160.10000000000002" stroke="#333" stroke-width="0.4" fill="none"/>
<rect x="132.00" y="316.20" width="24.30" height="66.00" fill="#fff" stroke="#4d4d4d" stroke-width="0.75"/>
<path d="M132.0,323.3 H156.3 M132.0,343.5 H156.3" fill="none" stroke="#4d4d4d" stroke-width="0.6" />
<rect x="132.50" y="355.50" width="23.10" height="18.70" fill="none" stroke="#555" stroke-width="0.9"/>
<circle cx="140.50" cy="321.20" r="1.05" fill="none" stroke="#333" stroke-width="0.5"/>
<circle cx="148.30" cy="321.20" r="1.05" fill="none" stroke="#333" stroke-width="0.5"/>
<circle cx="140.50" cy="377.60" r="1.05" fill="none" stroke="#333" stroke-width="0.5"/>
<circle cx="148.30" cy="377.60" r="1.05" fill="none" stroke="#333" stroke-width="0.5"/>
<clipPath id="k144"><circle cx="144.2" cy="349.1" r="5.3"/></clipPath>
<circle cx="144.20" cy="349.10" r="5.30" fill="#fff" stroke="#333" stroke-width="0.7"/>
<path d="M142.90,343.1 V355.1 M145.90,343.1 V355.1 M142.90,349.1 H144.40" stroke="#333" stroke-width="0.6" fill="none" clip-path="url(#k144)"/>
</g>
</svg>
</div>
</body>
</html>
